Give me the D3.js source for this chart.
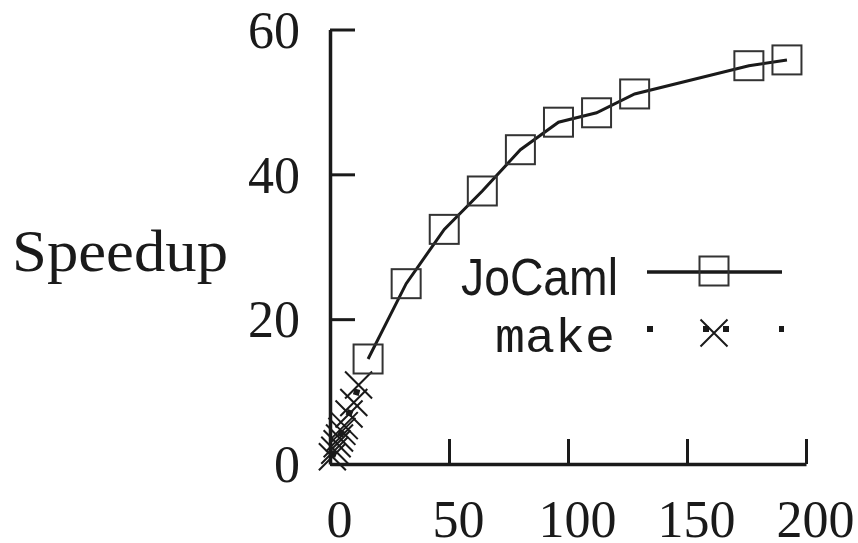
<!DOCTYPE html>
<html>
<head>
<meta charset="utf-8">
<script src="https://cdn.jsdelivr.net/npm/d3@7"></script>
<style>
  body { margin: 0; background: #fff; }
  svg { display: block; }
</style>
</head>
<body>
<div id="chart"></div>
<script>
"use strict";

// data
const jocamlX = [16, 32, 48, 64, 80, 96, 112, 128, 176, 192];
const jocamlY = [14.5, 24.9, 32.4, 37.7, 43.4, 47.2, 48.5, 51.1, 55.0, 55.8];
const makeX = [1, 2, 3, 4, 5, 6, 8, 10, 12];
const makeY = [1.0, 1.9, 2.8, 3.6, 4.5, 5.3, 6.9, 8.5, 10.9];
const xTicks = [0, 50, 100, 150, 200];
const yTicks = [0, 20, 40, 60];
const seriesNames = ["JoCaml", "make"];

const width = 858, height = 543;
const ink = "#1a1a1a";

const svg = d3.select("#chart").append("svg")
  .attr("width", width)
  .attr("height", height);

const x = d3.scaleLinear().domain([0, 200]).range([330, 806]);
const y = d3.scaleLinear().domain([0, 60]).range([464, 29.5]);

// axes, ticks pointing inwards
const xAxis = d3.axisBottom(x).tickValues(xTicks).tickSizeInner(-25).tickSizeOuter(0).tickPadding(0);
const yAxis = d3.axisLeft(y).tickValues(yTicks).tickSizeInner(-25).tickSizeOuter(0).tickPadding(30);

const gx = svg.append("g")
  .attr("transform", `translate(0,${y(0)})`)
  .call(xAxis);
const gy = svg.append("g")
  .attr("transform", `translate(${x(0)},0)`)
  .call(yAxis);

[gx, gy].forEach(g => {
  g.select(".domain").attr("stroke", ink).attr("stroke-width", 3.5);
  g.selectAll(".tick line").attr("stroke", ink).attr("stroke-width", 3);
  g.selectAll(".tick text")
    .attr("fill", ink)
    .style("font-family", "'Liberation Serif', 'DejaVu Serif', serif")
    .style("font-size", "52px");
});
gx.selectAll(".tick text").attr("y", 73).attr("dy", 0).attr("dx", 9);
gy.selectAll(".tick text").attr("dy", "0.34em");

// y label
svg.append("text")
  .attr("x", 12)
  .attr("y", 271)
  .attr("textLength", 216)
  .attr("lengthAdjust", "spacingAndGlyphs")
  .attr("fill", ink)
  .style("font-family", "'Liberation Serif', 'DejaVu Serif', serif")
  .style("font-size", "60px")
  .text("Speedup");

const jocaml = jocamlX.map((v, i) => ({x: v, y: jocamlY[i]}));
const make = makeX.map((v, i) => ({x: v, y: makeY[i]}));

const line = d3.line().x(d => x(d.x)).y(d => y(d.y));

const sq = 29, cr = 13.5;

function drawSquare(g, cx, cy) {
  g.append("rect")
    .attr("x", cx - sq / 2).attr("y", cy - sq / 2)
    .attr("width", sq).attr("height", sq)
    .attr("fill", "none")
    .attr("stroke", "#333")
    .attr("stroke-width", 2);
}
function drawCross(g, cx, cy) {
  g.append("path")
    .attr("d", `M${cx - cr},${cy - cr}L${cx + cr},${cy + cr}M${cx - cr},${cy + cr}L${cx + cr},${cy - cr}`)
    .attr("stroke", ink)
    .attr("stroke-width", 2);
}

// make series: dotted line + crosses
svg.append("path")
  .datum(make)
  .attr("d", line)
  .attr("fill", "none")
  .attr("stroke", ink)
  .attr("stroke-width", 6)
  .attr("stroke-dasharray", "6,16");
const makeG = svg.append("g");
make.forEach(d => drawCross(makeG, x(d.x), y(d.y)));

// JoCaml series: solid line + squares
svg.append("path")
  .datum(jocaml)
  .attr("d", line)
  .attr("fill", "none")
  .attr("stroke", ink)
  .attr("stroke-width", 3);
const jocG = svg.append("g");
jocaml.forEach(d => drawSquare(jocG, x(d.x), y(d.y)));

// legend
const lx0 = 647, lx1 = 782, lmid = 714;
svg.append("text")
  .attr("x", 618).attr("y", 295)
  .attr("text-anchor", "end")
  .attr("textLength", 157)
  .attr("lengthAdjust", "spacingAndGlyphs")
  .attr("fill", ink)
  .style("font-family", "'Liberation Sans', 'DejaVu Sans', sans-serif")
  .style("font-size", "52px")
  .text(seriesNames[0]);
svg.append("line")
  .attr("x1", lx0).attr("x2", lx1).attr("y1", 272).attr("y2", 272)
  .attr("stroke", ink).attr("stroke-width", 3.5);
drawSquare(svg, lmid, 271);

svg.append("text")
  .attr("x", 615).attr("y", 352)
  .attr("text-anchor", "end")
  .attr("textLength", 120)
  .attr("lengthAdjust", "spacingAndGlyphs")
  .attr("fill", ink)
  .style("font-family", "'Liberation Mono', 'DejaVu Sans Mono', monospace")
  .style("font-size", "49px")
  .text(seriesNames[1]);
svg.append("line")
  .attr("x1", lx0).attr("x2", lx1 + 2).attr("y1", 329).attr("y2", 329)
  .attr("stroke", ink).attr("stroke-width", 6)
  .attr("stroke-dasharray", "6,50,6,14");
drawCross(svg, lmid, 333);
</script>
</body>
</html>
